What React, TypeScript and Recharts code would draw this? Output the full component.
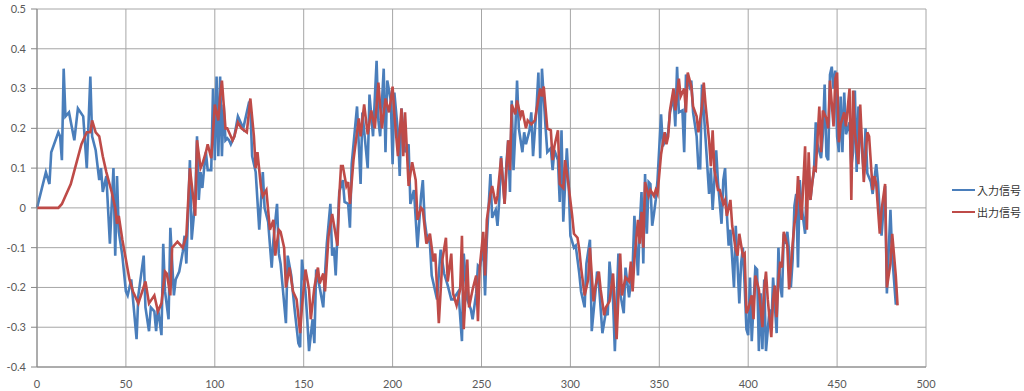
import { LineChart, Line, XAxis, YAxis, CartesianGrid, Legend } from "recharts";

// 入力信号 (blue)
const inputX = [
  0, 5, 7, 8, 12, 13, 14, 15, 16, 18, 21, 23, 26, 28, 30, 31, 33, 35, 36, 37, 39, 41, 43, 44, 45, 46, 48, 50, 51, 53,
  56, 57, 60, 61, 63, 64, 66, 67, 68, 70, 71, 72, 74, 75, 77, 78, 80, 82, 83, 84, 86, 87, 89, 90, 91, 92, 93, 94, 95, 96,
  98, 99, 100, 101, 102, 103, 104, 105, 106, 107, 108, 109, 111, 113, 114, 116, 119, 120, 121, 123, 125, 127, 128, 130, 132, 133, 135, 136, 137, 140,
  141, 143, 145, 147, 148, 149, 151, 152, 153, 155, 156, 157, 159, 161, 162, 163, 165, 166, 167, 168, 170, 172, 173, 175, 176, 177, 180, 182, 183, 186,
  187, 189, 191, 192, 193, 195, 196, 197, 199, 200, 201, 203, 204, 205, 207, 209, 210, 212, 214, 216, 217, 218, 219, 221, 222, 225, 227, 229, 231, 233,
  234, 237, 239, 240, 242, 244, 245, 247, 248, 249, 251, 252, 253, 255, 256, 258, 259, 260, 261, 263, 264, 265, 266, 267, 268, 269, 270, 271, 273, 274,
  275, 277, 278, 279, 281, 282, 283, 284, 286, 287, 289, 290, 291, 293, 294, 295, 296, 298, 299, 300, 302, 303, 305, 306, 308, 309, 311, 312, 314, 315,
  316, 318, 320, 321, 322, 324, 325, 327, 328, 330, 331, 333, 335, 336, 338, 339, 340, 341, 342, 343, 344, 345, 346, 347, 348, 349, 351, 352, 355, 356,
  358, 359, 360, 361, 363, 364, 365, 367, 368, 369, 371, 372, 373, 374, 376, 378, 379, 380, 381, 382, 383, 385, 386, 387, 388, 389, 390, 392, 393, 395,
  396, 397, 398, 399, 400, 401, 402, 404, 405, 406, 407, 408, 409, 410, 412, 413, 414, 416, 417, 418, 419, 420, 421, 422, 423, 424, 425, 426, 427, 428,
  429, 430, 432, 433, 434, 435, 436, 437, 438, 439, 441, 442, 443, 444, 445, 446, 447, 448, 449, 450, 451, 452, 453, 454, 455, 457, 458, 459, 460, 461,
  462, 463, 465, 466, 467, 469, 470, 472, 473, 474, 475, 477, 478, 480, 481, 483, 484,
];
const inputY = [
  0, 0.09, 0.06, 0.14, 0.19, 0.18, 0.12, 0.35, 0.23, 0.24, 0.17, 0.25, 0.23, 0.1, 0.33, 0.18, 0.145, 0.07, 0.1, 0.04, 0.08, -0.09, 0.1, -0.12, 0.08, -0.06, -0.12, -0.21, -0.22, -0.18,
  -0.33, -0.22, -0.12, -0.25, -0.31, -0.25, -0.26, -0.31, -0.25, -0.32, -0.09, -0.21, -0.28, -0.05, -0.22, -0.18, -0.16, -0.11, -0.07, -0.14, 0.12, -0.08, 0.02, 0.18, 0.02, 0.09, 0.05, 0.1, 0.14, 0.095,
  0.095, 0.3, 0.12, 0.33, 0.13, 0.33, 0.13, 0.26, 0.17, 0.175, 0.17, 0.16, 0.18, 0.23, 0.22, 0.2, 0.26, 0.25, 0.13, 0.09, -0.055, 0.09, 0, -0.035, -0.15, -0.08, 0.01, -0.115, -0.14, -0.29,
  -0.12, -0.17, -0.26, -0.34, -0.35, -0.13, -0.21, -0.28, -0.36, -0.28, -0.34, -0.155, -0.2, -0.25, -0.165, -0.09, 0.01, -0.12, -0.1, -0.17, 0.04, 0.07, 0.015, 0.01, -0.05, 0.11, 0.255, 0.06, 0.24, 0.1,
  0.285, 0.18, 0.37, 0.22, 0.18, 0.35, 0.14, 0.32, 0.27, 0.11, 0.29, 0.19, 0.08, 0.25, 0.14, 0.16, 0.01, 0.045, -0.1, 0.03, 0.07, -0.03, -0.065, -0.09, -0.17, -0.23, -0.105, -0.165, -0.195, -0.23,
  -0.23, -0.21, -0.335, -0.115, -0.23, -0.255, -0.28, -0.215, -0.145, -0.15, -0.1, -0.22, -0.08, 0.085, -0.025, -0.005, -0.045, 0.02, 0.13, 0.01, 0.11, 0.17, 0.04, 0.27, 0.095, 0.19, 0.32, 0.2, 0.14, 0.19,
  0.16, 0.195, 0.24, 0.13, 0.255, 0.34, 0.125, 0.35, 0.205, 0.14, 0.15, 0.095, 0.145, 0.12, 0.015, 0.195, -0.035, 0.15, 0.065, -0.07, -0.1, -0.095, -0.165, -0.21, -0.25, -0.14, -0.08, -0.31, -0.215, -0.16,
  -0.19, -0.315, -0.26, -0.27, -0.135, -0.235, -0.36, -0.115, -0.215, -0.265, -0.15, -0.225, -0.15, -0.02, -0.17, -0.045, 0.04, -0.14, 0.085, -0.065, 0.065, 0.06, -0.045, -0.015, 0.02, 0.07, 0.235, 0.155, 0.19, 0.24,
  0.28, 0.205, 0.355, 0.24, 0.245, 0.14, 0.335, 0.305, 0.32, 0.24, 0.18, 0.1, 0.1, 0.31, 0.175, 0.035, 0.1, -0.005, 0.07, 0.145, 0.065, -0.04, 0.07, 0.1, -0.015, -0.095, -0.055, -0.2, -0.045, -0.24,
  -0.14, -0.1, -0.195, -0.305, -0.32, -0.175, -0.335, -0.15, -0.155, -0.36, -0.215, -0.355, -0.18, -0.36, -0.255, -0.305, -0.175, -0.315, -0.1, -0.195, -0.225, -0.065, -0.09, -0.06, -0.11, -0.2, -0.13, 0.005, 0.035, -0.15,
  0.07, 0.005, -0.065, 0.075, 0.045, 0.02, 0.065, 0.09, 0.215, 0.16, 0.125, 0.185, 0.31, 0.13, 0.12, 0.335, 0.355, 0.3, 0.345, 0.18, 0.14, 0.28, 0.14, 0.29, 0.185, 0.215, 0.105, 0.14, 0.295, 0.09,
  0.255, 0.2, 0.087, 0.2, 0.087, 0.065, 0.035, 0.11, 0.065, -0.015, -0.07, 0.055, -0.215, -0.005, -0.12, -0.24, -0.24,
];

// 出力信号 (red)
const outputX = [
  0, 12, 14, 16, 19, 22, 25, 28, 30, 31, 33, 35, 37, 39, 42, 44, 45, 46, 48, 50, 52, 54, 57, 61, 63, 66, 68, 70, 72, 73,
  75, 76, 79, 82, 84, 86, 89, 90, 92, 93, 95, 96, 98, 99, 100, 102, 103, 104, 106, 107, 108, 110, 111, 113, 115, 118, 120, 122, 123, 124,
  126, 127, 129, 131, 133, 134, 136, 137, 139, 140, 142, 144, 146, 148, 149, 151, 153, 154, 156, 158, 159, 161, 162, 164, 166, 169, 170, 171, 172, 174,
  175, 176, 178, 181, 182, 184, 186, 188, 190, 192, 194, 196, 198, 200, 201, 203, 205, 206, 207, 209, 211, 213, 214, 216, 217, 219, 221, 223, 224, 226,
  228, 230, 231, 233, 234, 236, 238, 239, 240, 242, 243, 245, 247, 248, 249, 251, 252, 253, 255, 256, 258, 259, 261, 263, 264, 265, 266, 267, 269, 270,
  272, 273, 275, 276, 278, 280, 283, 284, 285, 287, 289, 290, 291, 293, 294, 296, 297, 299, 301, 302, 304, 305, 306, 308, 310, 311, 313, 314, 316, 317,
  319, 320, 322, 324, 326, 328, 329, 331, 333, 334, 335, 336, 338, 339, 340, 341, 342, 344, 345, 347, 348, 349, 351, 353, 354, 355, 356, 358, 359, 361,
  362, 364, 365, 366, 368, 369, 371, 372, 374, 375, 376, 378, 379, 380, 381, 383, 384, 386, 387, 388, 390, 391, 393, 394, 395, 397, 398, 399, 400, 402,
  403, 404, 406, 408, 409, 410, 411, 413, 414, 415, 416, 417, 418, 419, 420, 422, 423, 425, 426, 427, 428, 429, 430, 432, 433, 434, 435, 437, 438, 440,
  441, 442, 444, 445, 446, 448, 449, 450, 451, 452, 454, 455, 457, 458, 459, 460, 462, 463, 464, 465, 467, 468, 470, 471, 472, 474, 475, 477, 478, 480,
  481, 483, 484,
];
const outputY = [
  0, 0, 0.01, 0.03, 0.06, 0.11, 0.16, 0.19, 0.19, 0.22, 0.19, 0.18, 0.13, 0.09, 0.04, 0, -0.04, -0.02, -0.08, -0.13, -0.18, -0.21, -0.24, -0.185, -0.24, -0.22, -0.26, -0.24, -0.16, -0.165,
  -0.22, -0.1, -0.085, -0.1, -0.07, 0.1, -0.02, 0.17, 0.1, 0.11, 0.14, 0.16, 0.125, 0.19, 0.26, 0.22, 0.28, 0.32, 0.2, 0.2, 0.19, 0.17, 0.18, 0.215, 0.2, 0.19, 0.275, 0.18, 0.1, 0.14,
  0.05, 0.03, 0.045, -0.055, -0.03, -0.12, -0.055, -0.06, -0.1, -0.2, -0.15, -0.21, -0.23, -0.315, -0.25, -0.155, -0.205, -0.28, -0.2, -0.15, -0.19, -0.165, -0.21, -0.07, -0.015, -0.095, 0.03, 0.105, 0.105, 0.055,
  0.065, 0.01, 0.12, 0.225, 0.18, 0.26, 0.185, 0.245, 0.2, 0.315, 0.2, 0.275, 0.24, 0.305, 0.235, 0.13, 0.25, 0.13, 0.24, 0.055, 0.115, 0.07, -0.03, 0, -0.005, -0.09, -0.065, -0.135, -0.115, -0.29,
  -0.13, -0.075, -0.185, -0.115, -0.215, -0.245, -0.205, -0.07, -0.305, -0.13, -0.25, -0.205, -0.17, -0.285, -0.15, -0.06, -0.17, -0.03, 0.035, 0.055, 0.01, 0.03, 0.125, 0.01, 0.095, 0.17, 0.095, 0.26, 0.235, 0.27,
  0.23, 0.245, 0.2, 0.22, 0.21, 0.22, 0.3, 0.28, 0.305, 0.2, 0.195, 0.12, 0.155, 0.195, 0.06, 0.05, 0.12, 0.055, -0.02, -0.065, -0.075, -0.105, -0.15, -0.22, -0.18, -0.1, -0.235, -0.2, -0.16, -0.205,
  -0.27, -0.25, -0.235, -0.165, -0.33, -0.115, -0.22, -0.175, -0.185, -0.135, -0.21, -0.13, -0.03, -0.09, -0.01, -0.1, 0.065, 0.03, 0.045, 0.03, 0.045, 0.035, 0.135, 0.19, 0.16, 0.18, 0.245, 0.3, 0.245, 0.325,
  0.28, 0.3, 0.24, 0.34, 0.305, 0.255, 0.23, 0.19, 0.255, 0.315, 0.26, 0.17, 0.105, 0.195, 0.095, 0.045, 0.045, 0.01, 0.02, -0.02, 0.02, -0.045, -0.105, -0.12, -0.065, -0.12, -0.115, -0.265, -0.255, -0.22,
  -0.28, -0.17, -0.205, -0.3, -0.205, -0.16, -0.23, -0.325, -0.23, -0.195, -0.275, -0.18, -0.135, -0.15, -0.06, -0.095, -0.205, -0.09, -0.04, -0.015, 0.08, 0.02, -0.03, 0.155, -0.055, 0.14, 0.02, 0.1, 0.095, 0.255,
  0.14, 0.245, 0.225, 0.2, 0.32, 0.205, 0.325, 0.34, 0.165, 0.21, 0.24, 0.205, 0.3, 0.02, 0.295, 0.19, 0.11, 0.26, 0.165, 0.065, 0.19, 0.18, 0.045, 0.08, 0.06, -0.065, -0.005, 0.06, -0.2, -0.14,
  -0.065, -0.17, -0.245,
];

const xTicks = [0, 50, 100, 150, 200, 250, 300, 350, 400, 450, 500];
const yTicks = [-0.4, -0.3, -0.2, -0.1, 0, 0.1, 0.2, 0.3, 0.4, 0.5];

const seriesNames = ["入力信号", "出力信号"];
const COLORS = ["#4a7ebb", "#be4b48"];

const inputData = inputX.map((x, i) => ({ x, y: inputY[i] }));
const outputData = outputX.map((x, i) => ({ x, y: outputY[i] }));

const tickStyle = { fontSize: 11, fill: "#595959", fontFamily: "Lato, 'Liberation Sans', sans-serif" };

function SignalLegend() {
  return (
    <div style={{ fontFamily: "'Noto Sans CJK JP', sans-serif", fontSize: 11, color: "#333" }}>
      {seriesNames.map((name, i) => (
        <div key={name} style={{ display: "flex", alignItems: "center", height: 22 }}>
          <span style={{ display: "inline-block", width: 23, height: 2, background: COLORS[i], marginRight: 2 }} />
          <span>{name}</span>
        </div>
      ))}
    </div>
  );
}

export default function App() {
  return (
    <div style={{ position: "absolute", left: 0, top: 0, background: "#fff" }}>
      <LineChart width={1024} height={391} margin={{ top: 9, right: 98, bottom: 0, left: 0 }}>
        <CartesianGrid stroke="#a6a6a6" strokeWidth={1} />
        <XAxis
          type="number"
          dataKey="x"
          domain={[0, 500]}
          ticks={xTicks}
          interval={0}
          height={24}
          tick={tickStyle}
          tickLine={false}
          tickMargin={7}
          axisLine={{ stroke: "#868686" }}
          allowDuplicatedCategory={false}
        />
        <YAxis
          type="number"
          domain={[-0.4, 0.5]}
          ticks={yTicks}
          interval={0}
          width={37}
          tick={tickStyle}
          tickSize={6}
          tickMargin={5}
          tickLine={{ stroke: "#868686" }}
          axisLine={{ stroke: "#868686" }}
          tickFormatter={(v: number) => String(Math.round(v * 10) / 10)}
        />
        <Legend
          layout="vertical"
          align="center"
          verticalAlign="middle"
          content={() => <SignalLegend />}
          wrapperStyle={{ position: "absolute", left: 952, top: 179, width: 70 }}
        />
        <Line
          data={inputData}
          dataKey="y"
          name={seriesNames[0]}
          type="linear"
          stroke={COLORS[0]}
          strokeWidth={2.6}
          dot={false}
          isAnimationActive={false}
        />
        <Line
          data={outputData}
          dataKey="y"
          name={seriesNames[1]}
          type="linear"
          stroke={COLORS[1]}
          strokeWidth={2.6}
          dot={false}
          isAnimationActive={false}
        />
      </LineChart>
    </div>
  );
}
